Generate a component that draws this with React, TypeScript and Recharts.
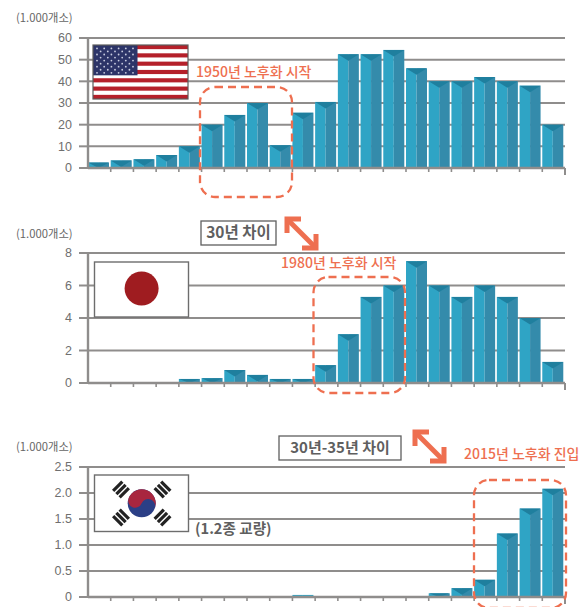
import React from "react";
import { BarChart, Bar, XAxis, YAxis, CartesianGrid } from "recharts";

const periods = ["p01","p02","p03","p04","p05","p06","p07","p08","p09","p10","p11","p12","p13","p14","p15","p16","p17","p18","p19","p20","p21"];
const usaValues = [2.5, 3.5, 4, 6, 10, 20, 24.5, 30, 10.5, 25.5, 30.5, 52.5, 52.5, 54.5, 46, 40, 40, 42, 40, 38, 20];
const japanValues = [0, 0, 0, 0, 0.25, 0.3, 0.8, 0.5, 0.25, 0.25, 1.1, 3, 5.3, 6, 7.5, 6, 5.3, 6, 5.3, 4, 1.3];
const koreaValues = [0, 0, 0, 0, 0, 0, 0, 0, 0, 0.04, 0, 0, 0, 0, 0, 0.07, 0.17, 0.33, 1.22, 1.7, 2.08];
const usaTicks = [0, 10, 20, 30, 40, 50, 60];
const japanTicks = [0, 2, 4, 6, 8];
const koreaTicks = [0, 0.5, 1, 1.5, 2, 2.5];
const unitLabel = "(1.000개소)";

const W = 582;
const AXIS_LEFT = 88;
const AXIS_RIGHT = 565;
const STEP = (AXIS_RIGHT - AXIS_LEFT) / periods.length;
const GRAY = "#8f8d8c";
const CORAL = "#ee6f50";
const KR = "'Noto Sans CJK KR', sans-serif";

// Prism-like bar: light left face, dark right face, dark triangular cap.
// Each bar hugs the left boundary of its category slot.
function PrismBar(props: any) {
  const { x: rawX, y, width, height } = props;
  if (!height || height <= 0) return null;
  const x = rawX - 1;
  const mid = x + width / 2;
  const cap = height < 3 ? 0 : Math.min(height, 6.5);
  return (
    <g>
      <rect x={x} y={y} width={width / 2} height={height} fill="#2fa4c5" />
      <rect x={mid} y={y} width={width / 2} height={height} fill={height < 3 ? "#2fa4c5" : "#348bab"} />
      {cap > 0 && <path d={`M${x},${y} L${x + width},${y} L${mid},${y + cap} Z`} fill="#1f7f9e" />}
    </g>
  );
}

// Ticks sit on the boundaries between categories, not at their centres.
function BoundaryTick(props: any) {
  const { x, y, index } = props;
  const last = index === periods.length - 1;
  return (
    <g stroke={GRAY} strokeWidth={last ? 2 : 1.6}>
      <line x1={x + STEP / 2} x2={x + STEP / 2} y1={y} y2={y + (last ? 7 : 4)} />
    </g>
  );
}

function Panel({ values, ticks, top, plotTop, plotBottom, max }: { values: number[]; ticks: number[]; top: number; plotTop: number; plotBottom: number; max: number }) {
  const data = periods.map((p, i) => ({ period: p, value: values[i] }));
  return (
    <div style={{ position: "absolute", left: 0, top }}>
      <BarChart
        width={W}
        height={plotBottom - top + 12}
        data={data}
        margin={{ top: plotTop - top, right: W - AXIS_RIGHT, bottom: 0, left: 0 }}
        barCategoryGap={1}
      >
        <CartesianGrid horizontal vertical={false} stroke={GRAY} strokeWidth={2} />
        <XAxis
          dataKey="period"
          height={12}
          interval={0}
          tickSize={0}
          tickMargin={0}
          tick={BoundaryTick}
          axisLine={{ stroke: GRAY, strokeWidth: 2.4 }}
        />
        <YAxis
          width={AXIS_LEFT}
          domain={[0, max]}
          ticks={ticks}
          interval={0}
          tickSize={9}
          tickMargin={7}
          tickFormatter={(v: number) => (max === 2.5 && v !== 0 ? v.toFixed(1) : String(v))}
          tick={{ fill: "#6f6f6f", fontSize: 12.5, fontFamily: "'Liberation Sans', sans-serif" }}
          tickLine={{ stroke: GRAY, strokeWidth: 2 }}
          axisLine={{ stroke: GRAY, strokeWidth: 2.4 }}
        />
        <Bar dataKey="value" shape={PrismBar} isAnimationActive={false} />
      </BarChart>
    </div>
  );
}

function UsFlag() {
  const x = 93, y = 45, w = 95, h = 54;
  const sh = h / 13;
  const stars: React.ReactNode[] = [];
  for (let r = 0; r < 9; r++) {
    const cols = r % 2 === 0 ? 6 : 5;
    for (let c = 0; c < cols; c++) {
      const cx = x + (r % 2 === 0 ? 4 : 7.6) + c * 7.2;
      stars.push(<circle key={`${r}-${c}`} cx={cx} cy={y + 3.4 + r * 3.05} r={0.9} fill="#c9cde0" />);
    }
  }
  return (
    <g>
      <rect x={x} y={y} width={w} height={h} fill="#fff" />
      {Array.from({ length: 7 }, (_, i) => (
        <rect key={i} x={x} y={y + i * 2 * sh} width={w} height={sh} fill="#b5202a" />
      ))}
      <rect x={x} y={y} width={44.5} height={sh * 7.3} fill="#2c3468" />
      {stars}
      <rect x={x} y={y} width={w} height={h} fill="none" stroke="#5d5d5d" strokeWidth={1.2} />
    </g>
  );
}

function JapanFlag() {
  return (
    <g>
      <rect x={94.5} y={262} width={94} height={55} fill="#fff" stroke="#6d6d6d" strokeWidth={1.4} />
      <circle cx={141.6} cy={288.5} r={17} fill="#9f1c20" />
    </g>
  );
}

function Trigram({ cx, cy, angle }: { cx: number; cy: number; angle: number }) {
  return (
    <g transform={`rotate(${angle} ${cx} ${cy})`} fill="#222">
      {[-4.6, 0, 4.6].map((d) => (
        <rect key={d} x={cx - 6.5} y={cy + d - 1.6} width={13} height={3.2} />
      ))}
    </g>
  );
}

function KoreaFlag() {
  const cx = 141.7, cy = 503.3, r = 14;
  return (
    <g>
      <rect x={94.5} y={475} width={94} height={56.5} fill="#fff" stroke="#6d6d6d" strokeWidth={1.4} />
      <circle cx={cx} cy={cy} r={r} fill="#2b3f86" />
      <path
        transform={`rotate(22 ${cx} ${cy})`}
        d={`M${cx - r},${cy} A${r},${r} 0 0 1 ${cx + r},${cy} A${r / 2},${r / 2} 0 0 0 ${cx},${cy} A${r / 2},${r / 2} 0 0 1 ${cx - r},${cy} Z`}
        fill="#a8263f"
      />
      <Trigram cx={121} cy={489.5} angle={-45} />
      <Trigram cx={162.5} cy={489.5} angle={45} />
      <Trigram cx={121} cy={517.5} angle={45} />
      <Trigram cx={162.5} cy={517.5} angle={-45} />
    </g>
  );
}

function DoubleArrow({ x1, y1, x2, y2 }: { x1: number; y1: number; x2: number; y2: number }) {
  const a = 12;
  return (
    <g stroke={CORAL} strokeWidth={5} fill="none">
      <line x1={x1 + 2} y1={y1 + 2} x2={x2 - 2} y2={y2 - 2} />
      <path d={`M${x1 + a + 2},${y1} L${x1},${y1} L${x1},${y1 + a + 2}`} />
      <path d={`M${x2 - a - 2},${y2} L${x2},${y2} L${x2},${y2 - a - 2}`} />
    </g>
  );
}

function Callout({ x, y, width, height, text, size }: { x: number; y: number; width: number; height: number; text: string; size: number }) {
  return (
    <g>
      <rect x={x} y={y} width={width} height={height} fill="#fff" stroke="#5f5f5f" strokeWidth={1.3} />
      <text x={x + width / 2} y={y + height / 2 + 5.4} textAnchor="middle" fontSize={size} fontWeight={700} fill="#5f5f5f" fontFamily={KR}>
        {text}
      </text>
    </g>
  );
}

function Notes() {
  const onset = { fill: "none", stroke: CORAL, strokeWidth: 2.3, strokeDasharray: "8 5", rx: 15 };
  const note = { fill: CORAL, fontSize: 14, fontWeight: 500, fontFamily: KR };
  const unit = { fill: "#666", fontSize: 11.3, fontFamily: KR };
  return (
    <svg width={W} height={607} style={{ position: "absolute", left: 0, top: 0 }}>
      <text x={16} y={22} {...unit}>{unitLabel}</text>
      <text x={16} y={238} {...unit}>{unitLabel}</text>
      <text x={16} y={451} {...unit}>{unitLabel}</text>

      <UsFlag />
      <JapanFlag />
      <KoreaFlag />

      <rect x={200} y={87} width={92} height={110} {...onset} />
      <rect x={313.5} y={277} width={91.5} height={116} {...onset} />
      <rect x={474} y={480} width={92} height={128} {...onset} />

      <text x={196} y={77} {...note}>1950년 노후화 시작</text>
      <text x={281} y={268} {...note}>1980년 노후화 시작</text>
      <text x={464} y={459} {...note}>2015년 노후화 진입</text>
      <text x={195} y={534} fill="#5f5f5f" fontSize={14.6} fontWeight={700} fontFamily={KR}>(1.2종 교량)</text>

      <Callout x={201} y={221} width={75} height={24} text="30년 차이" size={15.5} />
      <Callout x={279} y={436} width={122} height={24} text="30년-35년 차이" size={15} />
      <DoubleArrow x1={287} y1={219} x2={316} y2={248} />
      <DoubleArrow x1={415} y1={432} x2={444} y2={461} />
    </svg>
  );
}

export default function App() {
  return (
    <div style={{ position: "absolute", left: 0, top: 0, width: W, height: 607, background: "#fff", overflow: "hidden" }}>
      <Panel values={usaValues} ticks={usaTicks} top={20} plotTop={38} plotBottom={168} max={60} />
      <Panel values={japanValues} ticks={japanTicks} top={235} plotTop={253} plotBottom={383} max={8} />
      <Panel values={koreaValues} ticks={koreaTicks} top={449} plotTop={467} plotBottom={597} max={2.5} />
      <Notes />
    </div>
  );
}
